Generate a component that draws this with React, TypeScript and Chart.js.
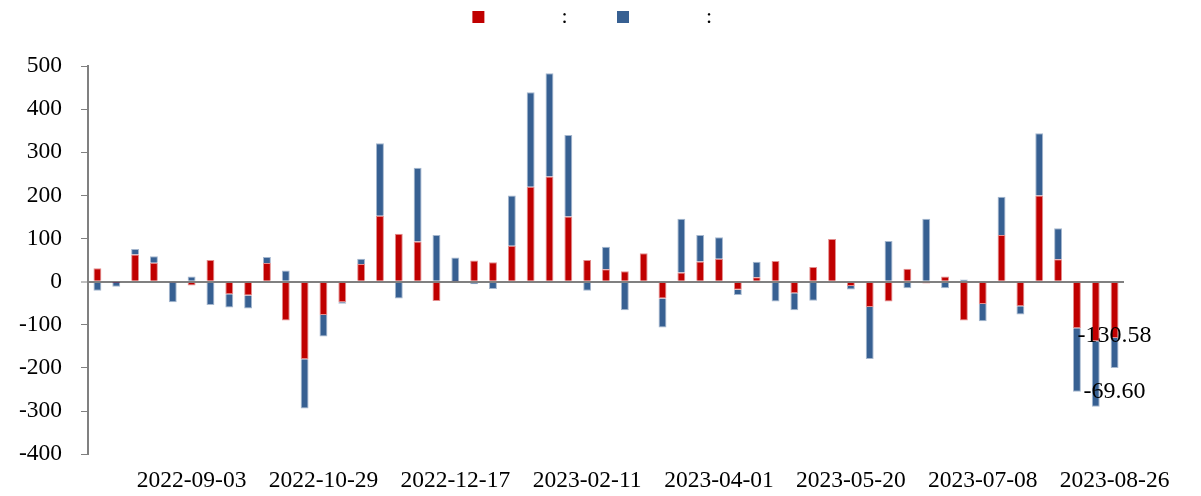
import React, { useEffect, useRef } from 'react';
import { Chart, registerables } from 'chart.js';

Chart.register(...registerables);

// Weekly dates (week-ending Saturdays, holiday weeks omitted)
const dates: string[] = [
  '2022-07-30', '2022-08-06', '2022-08-13', '2022-08-20', '2022-08-27',
  '2022-09-03', '2022-09-10', '2022-09-17', '2022-09-24', '2022-10-01',
  '2022-10-15', '2022-10-22', '2022-10-29', '2022-11-05', '2022-11-12',
  '2022-11-19', '2022-11-26', '2022-12-03', '2022-12-10', '2022-12-17',
  '2022-12-24', '2022-12-31', '2023-01-07', '2023-01-14', '2023-01-21',
  '2023-02-04', '2023-02-11', '2023-02-18', '2023-02-25', '2023-03-04',
  '2023-03-11', '2023-03-18', '2023-03-25', '2023-04-01', '2023-04-08',
  '2023-04-15', '2023-04-22', '2023-04-29', '2023-05-06', '2023-05-13',
  '2023-05-20', '2023-05-27', '2023-06-03', '2023-06-10', '2023-06-17',
  '2023-06-24', '2023-07-01', '2023-07-08', '2023-07-15', '2023-07-22',
  '2023-07-29', '2023-08-05', '2023-08-12', '2023-08-19', '2023-08-26',
];

const redSeries: number[] = [
  31, -1, 63, 44, -2,
  -9, 50, -29, -32, 43,
  -90, -180, -77, -48, 41,
  153, 111, 93, -45, 1,
  49, 45, 83, 220, 244,
  151, 50, 29, 24, 66,
  -39, 21, 47, 53, -19,
  10, 48, -27, 34, 99,
  -10, -59, -46, 30, -4,
  12, -90, -52, 108, -57,
  200, 52, -108, -138, -130.58,
];

const blueSeries: number[] = [
  -21, -11, 13, 15, -46,
  12, -54, -31, -30, 14,
  26, -114, -50, -3, 12,
  168, -39, 171, 108, 55,
  -6, -17, 117, 219, 239,
  189, -21, 52, -66, 0,
  -67, 125, 61, 50, -12,
  36, -46, -39, -44, 0,
  -8, -120, 94, -15, 146,
  -15, 5, -40, 89, -19,
  144, 72, -147, -152, -69.6,
];

// Legend texts (the reference renders only the colons; the names are blank glyphs)
const redLabel = '\u3000\u3000\u3000:\u3000\u3000 ';
const blueLabel = '\u3000\u3000\u3000:   ';

const yMin = -400;
const yMax = 500;
const yStep = 100;
const labelEvery = 7;
const labelStart = 5;

const RED = '#C00000';
const BLUE = '#376092';
const GRAY = '#808080';
const FONT = '"Liberation Serif", "Times New Roman", serif';

const legendHeightPlugin = {
  id: 'legendHeight',
  beforeLayout(chart: any) {
    const lg = chart.legend;
    if (lg && !lg.__patched) {
      const orig = lg.fit;
      lg.fit = function () {
        orig.call(this);
        this.height = 60;
      };
      lg.__patched = true;
    }
  },
};

const endLabelsPlugin = {
  id: 'endLabels',
  afterDatasetsDraw(chart: any) {
    const ctx = chart.ctx;
    const last = dates.length - 1;
    const specs = [
      { ds: 0, dy: -2.6, v: redSeries[last] },
      { ds: 1, dy: 24, v: blueSeries[last] },
    ];
    ctx.save();
    ctx.font = `24px ${FONT}`;
    ctx.fillStyle = '#000000';
    ctx.textAlign = 'center';
    ctx.textBaseline = 'middle';
    specs.forEach((s) => {
      const el = chart.getDatasetMeta(s.ds).data[last];
      if (el) ctx.fillText(s.v.toFixed(2), el.x, el.y + s.dy);
    });
    ctx.restore();
  },
};

export default function App() {
  const ref = useRef<HTMLCanvasElement | null>(null);

  useEffect(() => {
    if (!ref.current) return;
    const chart = new Chart(ref.current, {
      type: 'bar',
      data: {
        labels: dates,
        datasets: [
          {
            label: redLabel,
            data: redSeries,
            backgroundColor: RED,
            borderColor: 'rgba(192,0,0,0.45)',
            borderWidth: 1,
            barPercentage: 0.42,
            categoryPercentage: 1,
          },
          {
            label: blueLabel,
            data: blueSeries,
            backgroundColor: BLUE,
            borderColor: 'rgba(55,96,146,0.45)',
            borderWidth: 1,
            barPercentage: 0.42,
            categoryPercentage: 1,
          },
        ],
      },
      options: {
        animation: false,
        responsive: false,
        maintainAspectRatio: false,
        layout: { padding: { top: -2, left: 0, right: 0, bottom: 1 } },
        plugins: {
          legend: {
            display: true,
            position: 'top',
            align: 'center',
            labels: {
              boxWidth: 12,
              boxHeight: 12,
              padding: 0,
              color: '#000000',
              font: { family: FONT, size: 22 },
              generateLabels: (chart: any) =>
                (Chart.defaults.plugins.legend.labels as any)
                  .generateLabels(chart)
                  .map((l: any) => ({ ...l, lineWidth: 0, strokeStyle: l.fillStyle })),
            },
          },
          tooltip: { enabled: false },
        },
        scales: {
          x: {
            stacked: true,
            grid: { display: false, drawTicks: false },
            border: { display: false },
            afterFit: (s: any) => {
              s.height = 40.8;
            },
            ticks: {
              autoSkip: false,
              maxRotation: 0,
              minRotation: 0,
              padding: 12.6,
              color: '#000000',
              font: { family: FONT, size: 23.5 },
              callback: (_v: any, i: number) =>
                i % labelEvery === labelStart ? dates[i] : '',
            },
          },
          y: {
            stacked: true,
            min: yMin,
            max: yMax,
            afterFit: (s: any) => {
              s.width = 80;
            },
            ticks: {
              stepSize: yStep,
              padding: 19,
              color: '#000000',
              font: { family: FONT, size: 23.5 },
            },
            grid: {
              drawTicks: true,
              tickLength: 7,
              tickWidth: 1,
              tickColor: GRAY,
              color: (c: any) => (c.tick && c.tick.value === 0 ? GRAY : 'rgba(0,0,0,0)'),
              lineWidth: (c: any) => (c.tick && c.tick.value === 0 ? 2 : 1),
            },
            border: { display: true, color: GRAY, width: 2 },
          },
          yRightSpace: {
            type: 'linear',
            position: 'right',
            display: true,
            grid: { display: false, drawTicks: false },
            border: { display: false },
            ticks: { display: false },
            afterFit: (s: any) => {
              s.width = 69;
            },
          },
        },
      } as any,
      plugins: [legendHeightPlugin, endLabelsPlugin],
    });
    return () => chart.destroy();
  }, []);

  return (
    <canvas
      ref={ref}
      width={1185}
      height={488}
      style={{ display: 'block', width: 1185, height: 488, marginBottom: -8 }}
    />
  );
}
